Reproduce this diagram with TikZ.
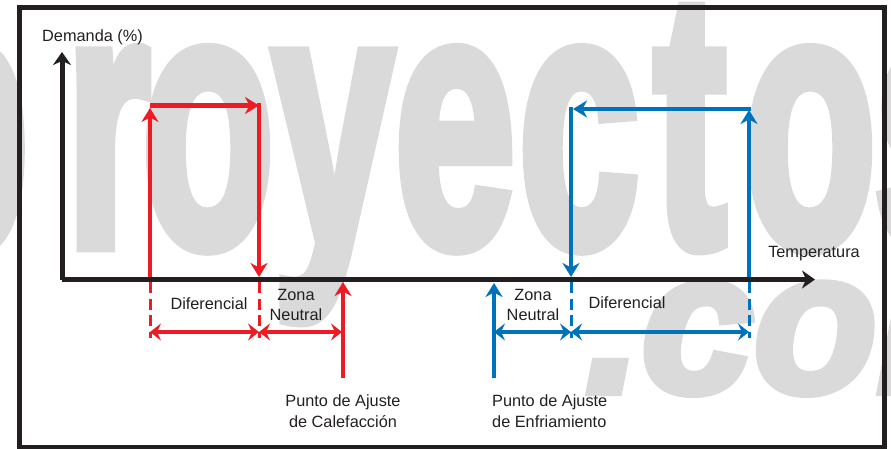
\documentclass[tikz,border=0pt]{standalone}
\usepackage{fontspec}
\setmainfont{Liberation Sans}
\newfontfamily\wmfont[FakeBold=4]{Liberation Sans Bold}
\usepackage{graphicx}
\usetikzlibrary{arrows.meta}
\definecolor{heatred}{RGB}{237,28,36}
\definecolor{coolblue}{RGB}{0,114,188}
\definecolor{inkgray}{RGB}{35,31,32}
\definecolor{wmgray}{RGB}{218,218,218}

\begin{document}
\begin{tikzpicture}[x=1pt, y=-1pt,
  font=\fontsize{16.3}{20.3}\selectfont, text=inkgray,
  wm/.style={text=wmgray, inner sep=0pt, anchor=base,
             font=\fontsize{362}{362}\selectfont\wmfont},
  axis/.style={draw=inkgray, line width=5pt,
               -{Stealth[length=13pt,width=18pt,inset=4pt]}},
  ln/.style={line width=4.5pt},
  arr/.style={ln, -{Stealth[length=14pt,width=17pt,inset=4.5pt]}},
  dim/.style={ln, {Stealth[length=11pt,width=17pt,inset=4pt]}-{Stealth[length=11pt,width=17pt,inset=4pt]}},
  dsh/.style={line width=3pt, dash pattern=on 11pt off 5.5pt},
  lbl/.style={inner sep=0pt, anchor=base, align=center}
]
\useasboundingbox (0,0) rectangle (891,449);

% watermark
\begin{scope}
\clip (0,0) rectangle (891,449);
\foreach \ch/\xc [count=\i] in {p/-37,r/108,o/208,y/333,e/455,c/579,t/690,o/810,s/934}
  \node[wm] (wm\i) at (\xc,245) {\scalebox{0.6}[1]{\ch}};
\node[wm, anchor=base west, font=\fontsize{202}{202}\selectfont\wmfont\itshape]
  (wmcom) at (585,392) {.com};
\end{scope}

% frame
\draw[draw=inkgray, line width=4.5pt] (19.5,7.5) rectangle (884.5,447.5);

\coordinate (O) at (62,279.5);
\coordinate (ytop) at (62,52);
\coordinate (xend) at (815,279.5);

% heating
\coordinate (h1) at (150,279.5);
\coordinate (h1t) at (150,108);
\coordinate (h2) at (150,105.5);
\coordinate (h3) at (259,105.5);
\coordinate (h3u) at (259,103.25);
\coordinate (h4) at (259,277);
\draw[arr, heatred] (h1) -- (h1t);
\draw[arr, heatred] (h2) -- (h3);
\draw[arr, heatred] (h3u) -- (h4);

\coordinate (hd1) at (150,282);
\coordinate (hd1b) at (150,338);
\coordinate (hd2) at (259,282);
\coordinate (hd2b) at (259,338);
\draw[dsh, heatred] (hd1) -- (hd1b);
\draw[dsh, heatred] (hd2) -- (hd2b);

\coordinate (hm1) at (150,332);
\coordinate (hm2) at (259,332);
\coordinate (hm3) at (342,332);
\draw[dim, heatred] (hm1) -- (hm2);
\draw[dim, heatred] (hm2) -- (hm3);

\coordinate (hs) at (343,378);
\coordinate (hst) at (343,282);
\draw[arr, heatred] (hs) -- (hst);

% cooling
\coordinate (c1) at (749,279.5);
\coordinate (c1t) at (749,110);
\coordinate (c2) at (751.25,109);
\coordinate (c3) at (573,109);
\coordinate (c3u) at (571,106.75);
\coordinate (c4) at (571,277);
\draw[arr, coolblue] (c1) -- (c1t);
\draw[arr, coolblue] (c2) -- (c3);
\draw[arr, coolblue] (c3u) -- (c4);

\coordinate (cd1) at (571,282);
\coordinate (cd1b) at (571,338);
\coordinate (cd2) at (749,282);
\coordinate (cd2b) at (749,338);
\draw[dsh, coolblue] (cd1) -- (cd1b);
\draw[dsh, coolblue] (cd2) -- (cd2b);

\coordinate (cm1) at (494,332);
\coordinate (cm2) at (571,332);
\coordinate (cm3) at (749,332);
\draw[dim, coolblue] (cm1) -- (cm2);
\draw[dim, coolblue] (cm2) -- (cm3);

\coordinate (cs) at (494,378);
\coordinate (cst) at (494,283);
\draw[arr, coolblue] (cs) -- (cst);

% axes
\draw[axis] (O) -- (ytop);
\draw[axis] (O) -- (xend);

% labels
\node[lbl] (dem) at (92.5,42) {Demanda (\%)};
\node[lbl] (temp) at (814,257) {Temperatura};
\node[lbl] (difh) at (209,309) {Diferencial};
\node[lbl] (znh) at (296,320.7) {Zona\\Neutral};
\node[lbl] (sph) at (343,427) {Punto de Ajuste\\de Calefacción};
\node[lbl] (znc) at (533,320.7) {Zona\\Neutral};
\node[lbl] (difc) at (627,308.5) {Diferencial};
\node[lbl, anchor=base west, align=left] (spc) at (492,427) {Punto de Ajuste\\de Enfriamiento};
\end{tikzpicture}
\end{document}
